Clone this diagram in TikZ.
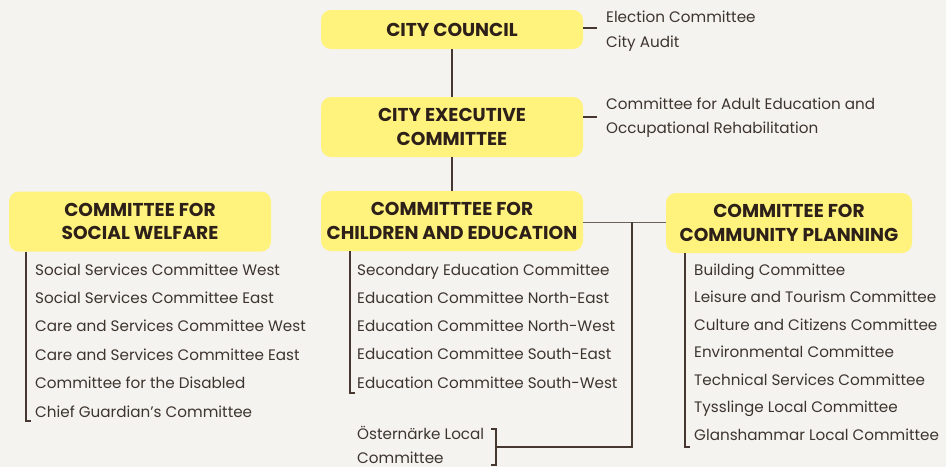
\documentclass[tikz,border=0pt]{standalone}
\usepackage{fontspec}
\setmainfont{Poppins}
\usetikzlibrary{positioning, calc}
\definecolor{PaperGrey}{RGB}{244,243,240}
\definecolor{BoardYellow}{RGB}{255,242,125}
\definecolor{BoardInk}{RGB}{44,32,24}
\definecolor{ListInk}{RGB}{62,52,46}
\definecolor{LineBrown}{RGB}{70,56,48}
\tikzset{
    headbox/.style={
        fill=BoardYellow, rounded corners=10pt, minimum width=262pt, minimum height=60pt,
        align=center, text=BoardInk, font=\bfseries\fontsize{18.6}{23.5}\selectfont, inner sep=0pt
    },
    itemtext/.style={
        anchor=base west, inner sep=0pt, text=ListInk, font=\fontsize{15.2}{16}\selectfont
    },
    link/.style={
        line width=1.3pt, LineBrown
    }
}

\begin{document}
\begin{tikzpicture}[x=1pt, y=-1pt]
    % --- background and frame ---
    \fill[PaperGrey] (0,0) rectangle (946,467);
    \useasboundingbox (0,0) rectangle (946,467);

    % --- main boxes ---
    \node[headbox, minimum height=39pt] (council) at (452,29.5) {CITY COUNCIL};
    \node[headbox] (exec) at (452,127) {CITY EXECUTIVE\\COMMITTEE};
    \node[headbox] (children) at (452,221) {COMMITTTEE FOR\\CHILDREN AND EDUCATION};
    \node[headbox] (welfare) at (140,221.5) {COMMITTEE FOR\\SOCIAL WELFARE};
    \node[headbox, minimum width=246pt] (planning) at (789,223) {COMMITTEE FOR\\COMMUNITY PLANNING};

    % --- side notes ---
    \node[itemtext] (audit1) at (606,22) {Election Committee};
    \node[itemtext] (audit2) at (606,47) {City Audit};
    \node[itemtext] (adult1) at (606,109) {Committee for Adult Education and};
    \node[itemtext] (adult2) at (606,133) {Occupational Rehabilitation};

    \draw[link] (council.east |- 0,28) -- ++(14,0);
    \draw[link] (exec.east |- 0,117) -- ++(14,0);

    % --- spine ---
    \draw[link] (council) -- (exec);
    \draw[link] (exec) -- (children);
    \draw[link, line width=1pt, LineBrown!80] (children.east |- 0,222) -- (planning.west |- 0,222);

    % --- lists ---
    \foreach \name [count=\i] in {Social Services Committee West, Social Services Committee East,
        Care and Services Committee West, Care and Services Committee East,
        Committee for the Disabled, Chief Guardian’s Committee}
        \node[itemtext] (sw\i) at (35,{275+28.4*(\i-1)}) {\name};

    \foreach \name [count=\i] in {Secondary Education Committee, Education Committee North-East,
        Education Committee North-West, Education Committee South-East,
        Education Committee South-West}
        \node[itemtext] (ce\i) at (357,{275+28.25*(\i-1)}) {\name};

    \foreach \name [count=\i] in {Building Committee, Leisure and Tourism Committee,
        Culture and Citizens Committee, Environmental Committee,
        Technical Services Committee, Tysslinge Local Committee,
        Glanshammar Local Committee}
        \node[itemtext] (cp\i) at (694,{275+27.5*(\i-1)}) {\name};

    \node[itemtext] (oe1) at (357,439) {Östernärke Local};
    \node[itemtext] (oe2) at (357,463.5) {Committee};

    % --- brackets ---
    \draw[link] (welfare.south -| 26,0) |- ([xshift=-4pt, yshift=-4pt]sw6.base west);
    \draw[link] (children.south -| 350,0) |- ([xshift=-2pt, yshift=-5pt]ce5.base west);
    \draw[link] (planning.south -| 685,0) |- ([xshift=-4pt, yshift=-7pt]cp7.base west);

    \coordinate (split) at (632,222);
    \coordinate (oejoin) at (496,447);
    \coordinate (oetop) at (496,429);
    \coordinate (oebot) at (496,465);
    \draw[link] (split) |- (oejoin);
    \draw[link] ([xshift=-5pt]oetop) -- (oetop) -- (oebot) -- ([xshift=-5pt]oebot);
\end{tikzpicture}
\end{document}
